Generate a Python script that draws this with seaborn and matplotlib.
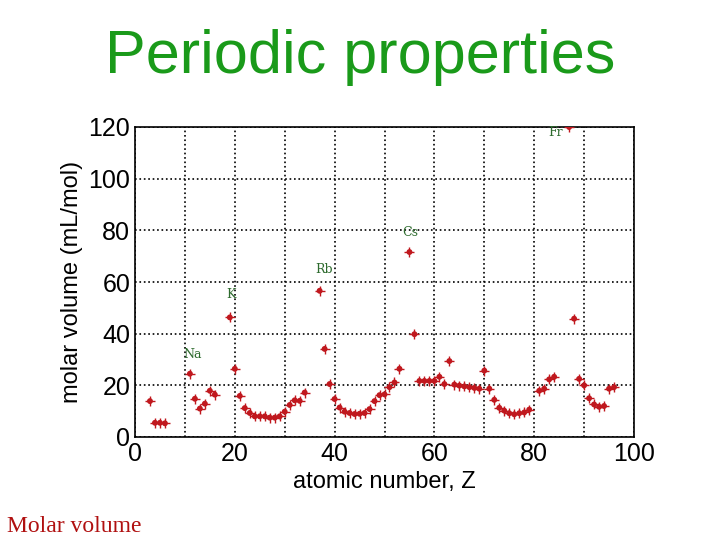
import matplotlib
matplotlib.use("Agg")
import matplotlib.pyplot as plt
import seaborn as sns
import pandas as pd

Z = [3,4,5,6,11,12,13,14,15,16,19,20,21,22,23,24,25,26,27,28,29,30,31,32,33,34,
     37,38,39,40,41,42,43,44,45,46,47,48,49,50,51,52,53,55,56,57,58,59,60,61,62,63,64,65,66,67,68,69,70,71,
     72,73,74,75,76,77,78,79,81,82,83,84,87,88,89,90,91,92,93,94,95,96]
V = [13.9,5.5,5.5,5.3,24.5,14.8,11.0,12.9,17.9,16.4,46.3,26.4,15.9,11.2,9.3,8.0,8.0,8.0,7.5,7.5,8.0,9.8,12.4,14.2,14.0,17.2,
     56.6,34.1,20.5,14.7,11.4,9.8,9.3,8.9,9.0,9.3,10.8,13.9,16.2,16.5,19.3,21.1,26.4,71.6,39.8,21.7,21.7,21.7,21.7,23.3,20.5,29.4,20.3,19.9,19.6,19.3,19.0,18.7,25.7,18.7,
     14.4,11.3,10.2,9.2,8.8,9.2,9.5,10.6,17.9,18.7,22.3,23.3,120.0,45.8,22.5,20.0,15.0,12.6,11.7,12.0,18.7,19.3]
labels = ["Na","K","Rb","Cs","Fr"]
label_x = [9.6,18.2,36.2,53.5,82.9]
label_y = [30.6,53.8,63.5,78.0,116.5]

df = pd.DataFrame({"Z": Z, "V": V})
sns.set_style("white")
plt.rcParams["font.family"] = ["Liberation Sans", "DejaVu Sans"]
plt.rcParams["text.color"] = "black"
plt.rcParams["axes.labelcolor"] = "black"
plt.rcParams["xtick.color"] = "black"
plt.rcParams["ytick.color"] = "black"
fig = plt.figure(figsize=(7.2,5.4), dpi=100)
ax = fig.add_axes([135/720, 1-437/540, (634-135)/720, (437-127)/540])
sns.scatterplot(data=df, x="Z", y="V", ax=ax, color="#c0181e", s=18, edgecolor="none", zorder=3)
sns.scatterplot(data=df, x="Z", y="V", ax=ax, color="#c0181e", marker="+", s=45, linewidth=1, zorder=3)
ax.set_xlim(0,100); ax.set_ylim(0,120)
ax.set_xticks(range(0,101,20)); ax.set_yticks(range(0,121,20))
ax.set_xticks(range(10,100,20), minor=True)
ax.grid(True, which="both", linestyle=":", color="black", linewidth=1.2)
ax.tick_params(direction="in", labelsize=18, length=5, which="both")
for s in ax.spines.values():
    s.set_color("black"); s.set_linewidth(1.2)
ax.set_xlabel("atomic number, Z", fontsize=17)
ax.set_ylabel("molar volume (mL/mol)", fontsize=17)
for t,x,y in zip(labels,label_x,label_y):
    ax.text(x,y,t,color="#2e6b2e",fontsize=9,family="DejaVu Serif",zorder=4)
fig.text(0.5, 0.865, "Periodic properties", ha="center", color="#1a9a1a", fontsize=44)
fig.text(0.01, 0.015, "Molar volume", color="#b01010", fontsize=17, family="Liberation Serif")
fig.savefig("out.png")
